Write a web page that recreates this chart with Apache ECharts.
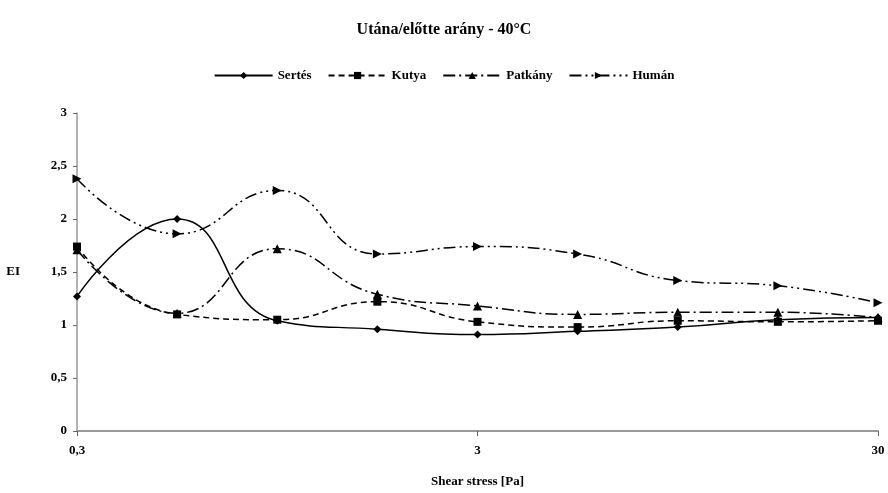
<!DOCTYPE html>
<html>
<head>
<meta charset="utf-8">
<script src="https://cdn.jsdelivr.net/npm/echarts@6/dist/echarts.min.js"></script>
<style>
html, body { margin: 0; padding: 0; background: #fff; }
#chart { width: 888px; height: 493px; }
</style>
</head>
<body>
<div id="chart"></div>
<script>
var myChart = echarts.init(document.getElementById('chart'));

// shear stress points (log-spaced), only 0,3 / 3 / 30 are labelled
var categories = ['0,3', '0,53', '0,95', '1,69', '3', '5,33', '9,49', '16,87', '30'];
var tickLabels = ['0,3', '3', '30'];

var sertes = [1.27, 2.00, 1.04, 0.96, 0.91, 0.94, 0.98, 1.05, 1.07];
var kutya = [1.74, 1.10, 1.05, 1.22, 1.03, 0.98, 1.04, 1.03, 1.04];
var patkany = [1.71, 1.11, 1.72, 1.29, 1.18, 1.10, 1.12, 1.12, 1.07];
var human = [2.38, 1.86, 2.27, 1.67, 1.74, 1.67, 1.42, 1.37, 1.21];

var font = 'Liberation Serif';

function makeSeries(name, data, symbol, size, dash, rotate) {
    return {
        name: name,
        type: 'line',
        data: data,
        smooth: 0.5,
        symbol: symbol,
        symbolSize: size,
        symbolRotate: rotate || 0,
        lineStyle: {
            color: '#000',
            width: 1.5,
            type: dash
        },
        itemStyle: {
            color: '#000'
        }
    };
}

option = {
    backgroundColor: '#fff',
    animation: false,
    title: {
        text: 'Utána/előtte arány - 40°C',
        left: 'center',
        top: 17,
        textStyle: {
            fontFamily: font,
            fontSize: 16,
            fontWeight: 'bold',
            color: '#000'
        }
    },
    legend: {
        top: 64,
        left: 'center',
        itemWidth: 58,
        itemHeight: 9,
        itemGap: 16,
        textStyle: {
            fontFamily: font,
            fontSize: 13,
            fontWeight: 'bold',
            color: '#000'
        },
        data: ['Sertés', 'Kutya', 'Patkány', 'Humán']
    },
    grid: {
        left: 77,
        right: 10,
        top: 113,
        bottom: 61,
        containLabel: false
    },
    xAxis: {
        type: 'category',
        boundaryGap: false,
        data: categories,
        name: 'Shear stress [Pa]',
        nameLocation: 'middle',
        nameGap: 44,
        nameTextStyle: {
            fontFamily: font,
            fontSize: 13,
            fontWeight: 'bold',
            color: '#000'
        },
        axisLine: {
            lineStyle: { color: '#999', width: 2 }
        },
        axisTick: {
            interval: function (i, v) { return tickLabels.indexOf(v) >= 0; },
            length: 5,
            lineStyle: { color: '#666' }
        },
        axisLabel: {
            interval: function (i, v) { return tickLabels.indexOf(v) >= 0; },
            fontFamily: font,
            fontSize: 13,
            fontWeight: 'bold',
            color: '#000',
            margin: 13
        },
        splitLine: { show: false }
    },
    yAxis: {
        type: 'value',
        min: 0,
        max: 3,
        interval: 0.5,
        name: 'EI',
        nameLocation: 'middle',
        nameRotate: 0,
        nameGap: 57,
        nameTextStyle: {
            fontFamily: font,
            fontSize: 13,
            fontWeight: 'bold',
            color: '#000'
        },
        axisLine: {
            show: true,
            lineStyle: { color: '#999', width: 1.5 }
        },
        axisTick: {
            show: true,
            length: 4,
            lineStyle: { color: '#666' }
        },
        axisLabel: {
            fontFamily: font,
            fontSize: 13,
            fontWeight: 'bold',
            color: '#000',
            margin: 10,
            formatter: function (v) { return String(v).replace('.', ','); }
        },
        splitLine: { show: false }
    },
    series: [
        makeSeries('Sertés', sertes, 'diamond', 8, 'solid'),
        makeSeries('Kutya', kutya, 'rect', 8, [6, 4]),
        makeSeries('Patkány', patkany, 'triangle', 9, [12, 4, 2, 4]),
        makeSeries('Humán', human, 'triangle', 9, [12, 4, 2, 4, 2, 4], -90)
    ]
};

myChart.setOption(option);
</script>
</body>
</html>
